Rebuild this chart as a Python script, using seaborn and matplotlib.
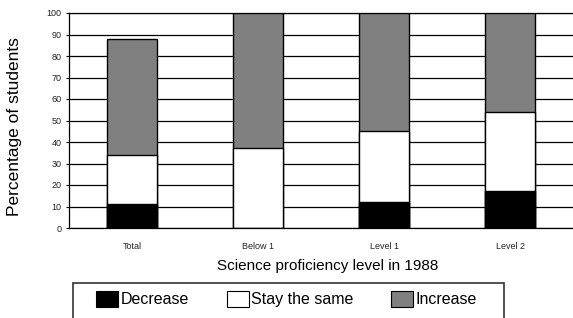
import matplotlib
matplotlib.use("Agg")
import matplotlib.pyplot as plt
import pandas as pd
import seaborn as sns
from matplotlib.patches import Patch, Rectangle

levels = ["Total", "Below 1", "Level 1", "Level 2"]
decrease = [11, 0, 12, 17]
stay_same = [23, 37, 33, 37]
increase = [54, 63, 55, 46]

df = pd.DataFrame({
    "level": levels,
    "decrease": decrease,
    "stay": stay_same,
    "increase": increase,
})
# cumulative tops for stacking (draw tallest first)
df["top_decrease"] = df["decrease"]
df["top_stay"] = df["decrease"] + df["stay"]
df["top_increase"] = df["top_stay"] + df["increase"]

colors = {"Decrease": "#000000", "Stay the same": "#ffffff", "Increase": "#808080"}

sns.set_style("white")
plt.rcParams["font.family"] = ["Liberation Sans", "DejaVu Sans"]
plt.rcParams.update({"text.color": "black", "axes.labelcolor": "black",
                     "xtick.color": "black", "ytick.color": "black"})

fig = plt.figure(figsize=(5.73, 3.18), dpi=100)
ax = fig.add_axes([69 / 573, 1 - 228 / 318, 504 / 573, 215 / 318])

bar_kw = dict(edgecolor="black", linewidth=1, width=0.4, saturation=1, ax=ax, zorder=3)
sns.barplot(data=df, x="level", y="top_increase", color=colors["Increase"], **bar_kw)
sns.barplot(data=df, x="level", y="top_stay", color=colors["Stay the same"], **bar_kw)
sns.barplot(data=df, x="level", y="top_decrease", color=colors["Decrease"], **bar_kw)

ax.set_ylim(0, 100)
ax.set_xlim(-0.5, 3.5)
ax.set_yticks(range(0, 101, 10))
ax.yaxis.grid(True, color="black", linewidth=0.9, zorder=0)
ax.xaxis.grid(False)
ax.set_axisbelow(True)
ax.spines["right"].set_visible(False)
for side in ["left", "bottom", "top"]:
    ax.spines[side].set_color("black")
    ax.spines[side].set_linewidth(0.9)

ax.tick_params(axis="y", length=2.5, width=0.8, color="black", pad=3, labelsize=6.5,
               direction="out", left=True, labelcolor="#222222")
ax.tick_params(axis="x", length=0, pad=10, labelsize=6.5, labelcolor="#222222")

ax.set_xlabel("Science proficiency level in 1988", fontsize=11)
ax.set_ylabel("Percentage of students", fontsize=12.5)
ax.xaxis.set_label_coords((328 - 69) / 504, -(259 - 228) / 215)
ax.yaxis.set_label_coords((22 - 69) / 504, (228 - 127) / 215)

# legend box
fig.patches.append(Rectangle((73 / 573, -0.1), (504 - 73) / 573, 0.1 + (318 - 283) / 318,
                             transform=fig.transFigure, fill=False,
                             edgecolor="#333333", linewidth=1.2, clip_on=False))
handles = [Patch(facecolor=c, edgecolor="black", linewidth=0.8, label=k)
           for k, c in colors.items()]
fig.legend(handles=handles, ncol=3, frameon=False, loc="center",
           bbox_to_anchor=(286.5 / 573, 1 - 299 / 318), fontsize=11.5,
           handlelength=1.375, handleheight=1.25, handletextpad=0.15,
           columnspacing=2.35, borderpad=0, borderaxespad=0)

fig.savefig("out.png", dpi=100)
